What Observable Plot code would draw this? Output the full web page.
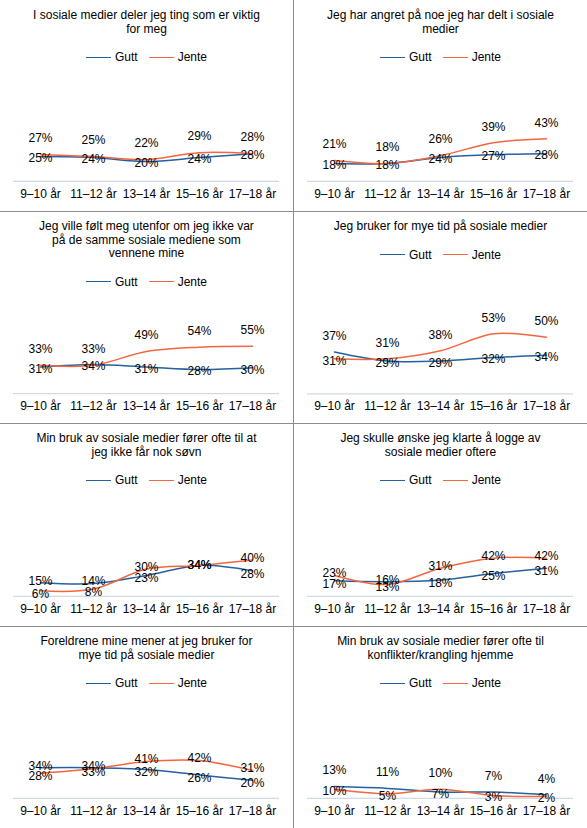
<!DOCTYPE html>
<html><head><meta charset="utf-8">
<script src="https://cdn.jsdelivr.net/npm/d3@7"></script>
<script src="https://cdn.jsdelivr.net/npm/@observablehq/plot@0.6"></script>
<style>
body{margin:0;background:#fff;font-family:"Liberation Sans",Arial,sans-serif;}
#root{position:relative;width:587px;height:828px;overflow:hidden;background:#fff;}
.panel{position:absolute;width:293px;}
.title{position:absolute;left:0;right:0;text-align:center;font-size:12px;line-height:13.6px;white-space:pre-line;color:#000;}
.legend{position:absolute;left:0;right:0;height:14px;display:flex;justify-content:center;align-items:center;font-size:12px;color:#000;}
.item{display:flex;align-items:center;margin:0 5.5px;}
.sw{display:inline-block;width:25px;height:0;border-top:1.5px solid;margin-right:4px;}
.sep{position:absolute;background:#8c8c8c;}
.panel svg{position:absolute;left:0;}
</style></head>
<body><div id="root"></div>
<script>
const ageGroups = ["9–10 år","11–12 år","13–14 år","15–16 år","17–18 år"];
const series = ["Gutt","Jente"];
const seriesColors = ["#2361a0","#f26640"];
const titles = [
  "I sosiale medier deler jeg ting som er viktig\nfor meg",
  "Jeg har angret på noe jeg har delt i sosiale\nmedier",
  "Jeg ville følt meg utenfor om jeg ikke var\npå de samme sosiale mediene som\nvennene mine",
  "Jeg bruker for mye tid på sosiale medier",
  "Min bruk av sosiale medier fører ofte til at\njeg ikke får nok søvn",
  "Jeg skulle ønske jeg klarte å logge av\nsosiale medier oftere",
  "Foreldrene mine mener at jeg bruker for\nmye tid på sosiale medier",
  "Min bruk av sosiale medier fører ofte til\nkonflikter/krangling hjemme"
];
const gutt = [
  [25,24,20,24,28],
  [18,18,24,27,28],
  [31,34,31,28,30],
  [37,29,29,32,34],
  [15,14,23,34,28],
  [17,16,18,25,31],
  [34,34,32,26,20],
  [13,11,7,7,4]
];
const jente = [
  [27,25,22,29,28],
  [21,18,26,39,43],
  [33,33,49,54,55],
  [31,31,38,53,50],
  [6,8,30,34,40],
  [23,13,31,42,42],
  [28,33,41,42,31],
  [10,5,10,3,2]
];
// label placement per panel: "split" = one label lifted above its point, "center" = labels on the points
const labelMode = ["split","split","split","split","center","center","center","split"];

const root = document.getElementById("root");
const rowTop = [0, 211, 423, 626];
const rowH = [211, 212, 203, 202];
const colLeft = [0, 294];
const FONT = '"Liberation Sans", Arial, sans-serif';

titles.forEach((title, p) => {
  const r = Math.floor(p / 2), c = p % 2;
  const panel = document.createElement("div");
  panel.className = "panel";
  panel.style.left = colLeft[c] + "px";
  panel.style.top = rowTop[r] + "px";
  panel.style.height = rowH[r] + "px";
  root.appendChild(panel);

  const nLines = title.split("\n").length;
  const t = document.createElement("div");
  t.className = "title";
  t.style.top = "9px";
  t.textContent = title;
  panel.appendChild(t);

  const legendY = 9 + nLines * 13.6 + 21;
  const lg = document.createElement("div");
  lg.className = "legend";
  lg.style.top = (legendY - 7) + "px";
  series.forEach((s, i) => {
    const it = document.createElement("span");
    it.className = "item";
    const sw = document.createElement("span");
    sw.className = "sw";
    sw.style.borderTopColor = seriesColors[i];
    it.appendChild(sw);
    it.appendChild(document.createTextNode(s));
    lg.appendChild(it);
  });
  panel.appendChild(lg);

  const rows = [];
  ageGroups.forEach((a, i) => {
    const g = gutt[p][i], j = jente[p][i];
    let gPos, jPos;
    if (labelMode[p] === "split") {
      if (j >= g - 1) { jPos = "above"; gPos = "at"; } else { gPos = "above"; jPos = "at"; }
    } else if (j === g) {
      gPos = "mid"; jPos = "mid";
    } else {
      if (j > g) { jPos = "hi"; gPos = "lo"; } else { gPos = "hi"; jPos = "lo"; }
    }
    rows.push({age: a, sex: "Gutt", value: g, pos: gPos});
    rows.push({age: a, sex: "Jente", value: j, pos: jPos});
  });

  const svgTop = legendY + 10;
  const h = rowH[r] - svgTop;
  const lbl = d => d.value + "%";
  const txt = (pos, dy) => Plot.text(rows.filter(d => d.pos === pos), {x: "age", y: "value", text: lbl, dy, fontSize: 12, fill: "#000"});
  const chart = Plot.plot({
    width: 293,
    height: h,
    marginLeft: 13, marginRight: 14, marginTop: 15, marginBottom: 30,
    style: {fontFamily: FONT, fontSize: "12px", color: "#000", background: "transparent", overflow: "visible"},
    x: {type: "point", domain: ageGroups, padding: 0.5, label: null, tickSize: 0, tickPadding: 8},
    y: {domain: [0, 100], axis: null},
    color: {domain: series, range: seriesColors},
    marks: [
      Plot.ruleY([0], {stroke: "#c3d0e2", strokeWidth: 1}),
      Plot.line(rows, {x: "age", y: "value", stroke: "sex", z: "sex", curve: "cardinal", strokeWidth: 1.5}),
      txt("above", -16),
      txt("at", 2),
      txt("hi", -2),
      txt("lo", 3),
      txt("mid", 0)
    ]
  });
  chart.style.top = svgTop + "px";
  panel.appendChild(chart);
});

// separators
[[293, 0, 1, 828]].concat([211, 423, 626].map(y => [0, y, 587, 1])).forEach(([x, y, w, hh]) => {
  const s = document.createElement("div");
  s.className = "sep";
  s.style.left = x + "px"; s.style.top = y + "px";
  s.style.width = w + "px"; s.style.height = hh + "px";
  root.appendChild(s);
});
</script>
</body></html>
